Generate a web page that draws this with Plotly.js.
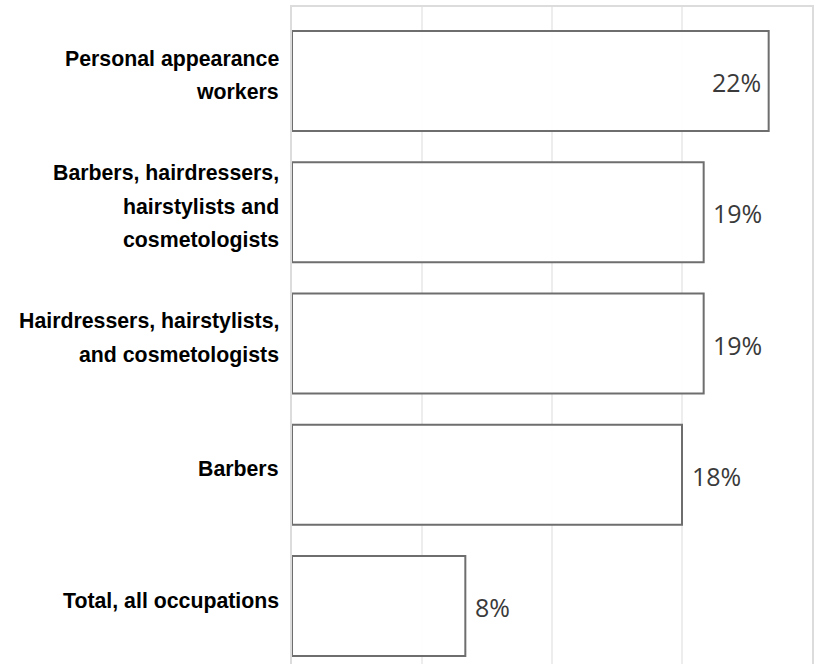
<!DOCTYPE html>
<html>
<head>
<meta charset="utf-8">
<script src="https://cdn.plot.ly/plotly-3.0.1.min.js"></script>
<style>
html, body { margin: 0; padding: 0; overflow: hidden; background: #fff; }
#chart { width: 814px; height: 690px; }
</style>
</head>
<body>
<div id="chart"></div>
<script>
// Data
const categories = [
  "Personal appearance<br>workers",
  "Barbers, hairdressers,<br>hairstylists and<br>cosmetologists",
  "Hairdressers, hairstylists,<br>and cosmetologists",
  "Barbers",
  "Total, all occupations"
];
const values = [22, 19, 19, 18, 8];
const valueLabels = ["22%", "19%", "19%", "18%", "8%"];
const labelInside = [true, false, false, false, false];

const trace = {
  type: "bar",
  orientation: "h",
  x: values,
  y: categories,
  marker: { color: "rgba(255,255,255,0.9)", line: { color: "#6e6e6e", width: 2 } },
  hoverinfo: "none"
};

const annotations = [];
// category labels, one annotation per line
const lineGap = 33.5;
categories.forEach((cat) => {
  const lines = cat.split("<br>");
  const n = lines.length;
  lines.forEach((ln, i) => {
    annotations.push({
      xref: "paper", x: 0, xanchor: "right", xshift: -11,
      yref: "y", y: cat, yanchor: "middle",
      yshift: ((n - 1) / 2 - i) * lineGap + 5.5,
      text: ln, showarrow: false,
      font: { family: "Liberation Sans", size: 21.3, color: "#000", weight: "bold" }
    });
  });
});
// value labels
values.forEach((v, i) => {
  const inside = labelInside[i];
  annotations.push({
    xref: "x", x: v, yref: "y", y: categories[i],
    xanchor: inside ? "right" : "left",
    xshift: inside ? -5.5 : 7.5,
    yanchor: "middle", yshift: -1,
    text: valueLabels[i], showarrow: false,
    font: { family: "Open Sans", size: 25, color: "#3a3a3a" }
  });
});

const pad = 0.5638;
const layout = {
  width: 814, height: 690,
  margin: { l: 292, r: 2, t: 7, b: 10 },
  paper_bgcolor: "#fff", plot_bgcolor: "#fff",
  showlegend: false,
  bargap: 0.238,
  xaxis: {
    range: [0, 24], dtick: 6, tick0: 0,
    showticklabels: false, ticks: "",
    showgrid: true, gridcolor: "#ededed", gridwidth: 2,
    zeroline: false,
    showline: true, mirror: true, linecolor: "#dcdcdc", linewidth: 2
  },
  yaxis: {
    type: "category", categoryorder: "array", categoryarray: categories,
    range: [categories.length - 1 + pad, -pad], autorange: false,
    showticklabels: false, ticks: "", showgrid: false, zeroline: false,
    showline: true, mirror: true, linecolor: "#dcdcdc", linewidth: 2
  },
  annotations: annotations
};

Plotly.newPlot("chart", [trace], layout, { displayModeBar: false, staticPlot: true });
</script>
</body>
</html>
